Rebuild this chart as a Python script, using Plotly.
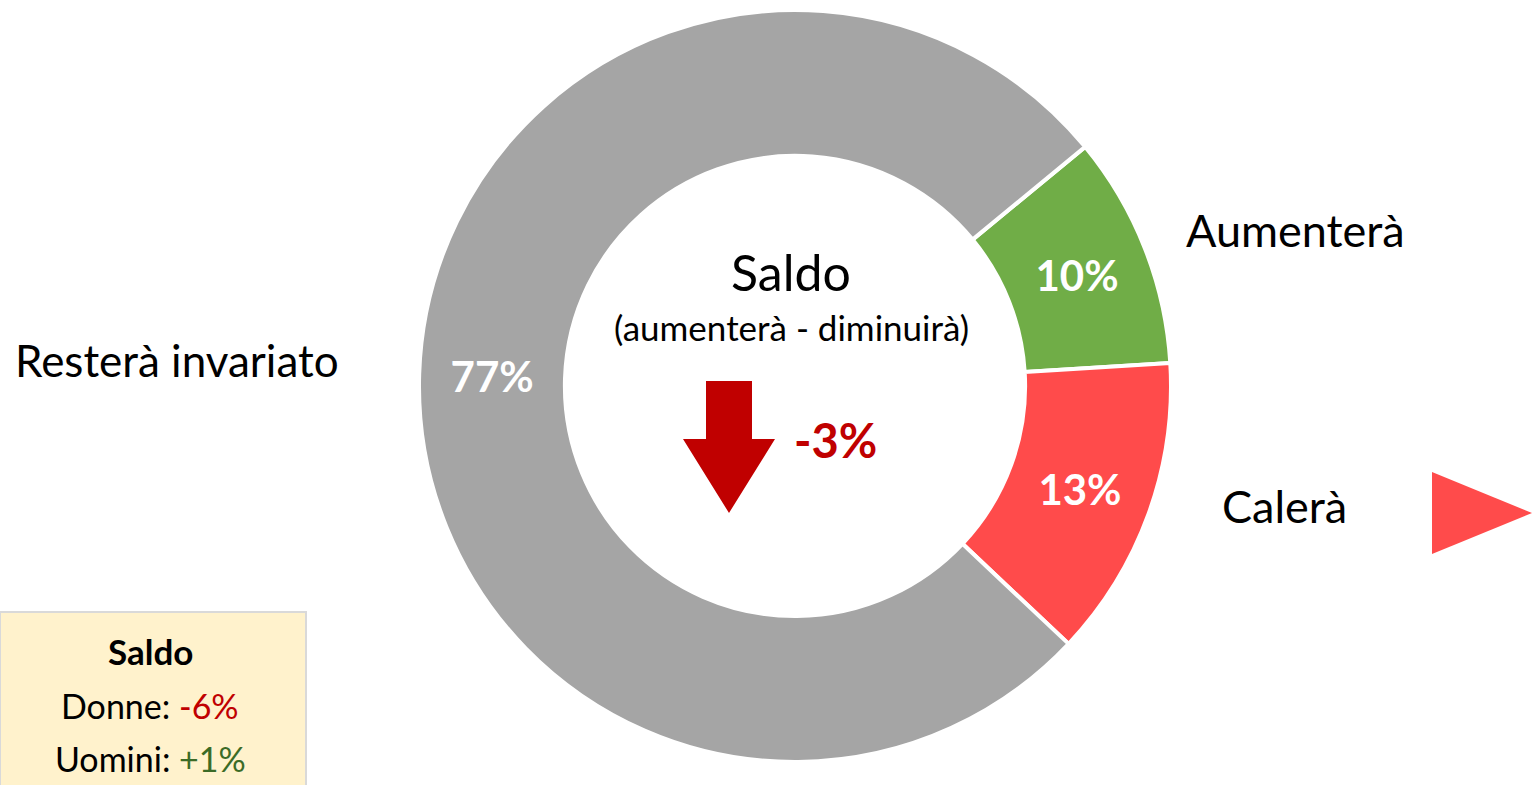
import plotly.graph_objects as go

W, H = 1532, 785

# Data
labels = ["Aumenterà", "Calerà", "Resterà invariato"]
values = [10, 13, 77]
colors = ["#70AD47", "#FF4B4B", "#A5A5A5"]
saldo_total = "-3%"
saldo_donne = "-6%"
saldo_uomini = "+1%"

FONT = "Lato"


def px(x):
    return x / W


def py(y):
    return 1 - y / H


fig = go.Figure()
fig.add_trace(go.Pie(
    labels=labels,
    values=values,
    marker=dict(colors=colors, line=dict(color="white", width=4)),
    hole=0.612,
    sort=False,
    direction="clockwise",
    rotation=50.5,
    textinfo="percent",
    texttemplate="<b>%{percent:.0%}</b>",
    textposition="inside",
    insidetextorientation="horizontal",
    textfont=dict(family=FONT, size=42, color="white", weight="bold"),
    domain=dict(x=[px(419), px(1171)], y=[py(762), py(10)]),
    showlegend=False,
    hoverinfo="skip",
))

shapes = [
    # Saldo box
    dict(type="rect", xref="paper", yref="paper", x0=px(0), x1=px(306), y0=py(786), y1=py(612),
         fillcolor="#FFF2CC", line=dict(color="#D9D9D9", width=2), layer="below"),
    # Down arrow
    dict(type="path", xref="paper", yref="paper",
         path=(f"M {px(706)} {py(381)} L {px(752)} {py(381)} L {px(752)} {py(439)} "
               f"L {px(775)} {py(439)} L {px(729)} {py(513)} L {px(683)} {py(439)} "
               f"L {px(706)} {py(439)} Z"),
         fillcolor="#C00000", line=dict(width=0)),
    # Right triangle
    dict(type="path", xref="paper", yref="paper",
         path=f"M {px(1432)} {py(472)} L {px(1532)} {py(513)} L {px(1432)} {py(554)} Z",
         fillcolor="#FF4B4B", line=dict(width=0)),
]

ann = []


def add_text(x, y, text, size, color="black", bold=False):
    ann.append(dict(x=px(x), y=py(y), xref="paper", yref="paper", text=text, showarrow=False,
                    xanchor="center", yanchor="middle",
                    font=dict(family=FONT, size=size, color=color, weight="bold" if bold else "normal")))


add_text(1295, 230, labels[0], 45)
add_text(1284, 506, labels[1], 45)
add_text(177, 360, labels[2], 44)
add_text(791, 272, "Saldo", 50)
add_text(791, 327, "(aumenterà - diminuirà)", 35)
add_text(835, 440, saldo_total, 47, color="#C00000", bold=True)
add_text(150, 651, "<b>Saldo</b>", 35)
add_text(150, 705, f"Donne: <span style='color:#C00000'>{saldo_donne}</span>", 34)
add_text(150, 758, f"Uomini: <span style='color:#3B6B26'>{saldo_uomini}</span>", 34)

fig.update_layout(
    width=W, height=H,
    margin=dict(l=0, r=0, t=0, b=0),
    paper_bgcolor="white", plot_bgcolor="white",
    shapes=shapes, annotations=ann,
    font=dict(family=FONT),
)

fig.write_html("out.html", config={"displayModeBar": False},
               post_script="document.body.style.margin='0';document.body.style.overflow='hidden';")
